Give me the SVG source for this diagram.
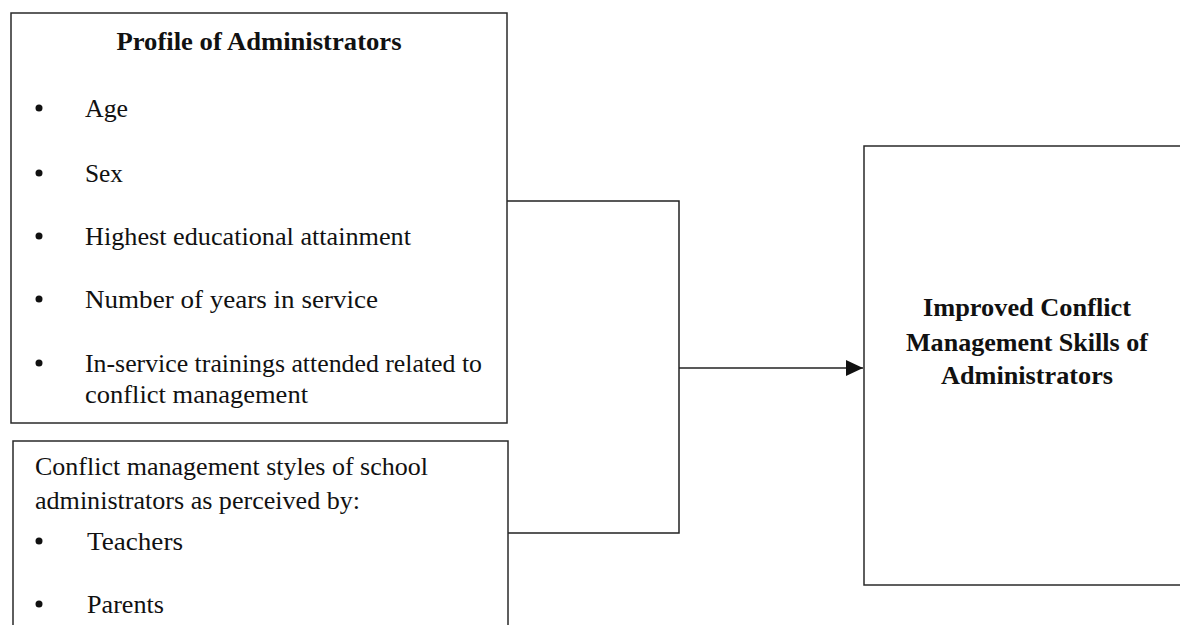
<svg xmlns="http://www.w3.org/2000/svg" width="1180" height="625" viewBox="0 0 1180 625">
  <style>
    .box { fill: #ffffff; stroke: #2a2a2a; stroke-width: 1.5; }
    .conn { fill: none; stroke: #222222; stroke-width: 1.5; }
    .t { font-family: "Liberation Serif", "Times New Roman", serif; font-size: 25px; fill: #111111; }
    .b { font-weight: bold; }
    .dot { fill: #111111; }
  </style>
  <defs>
    <marker id="arrow" markerUnits="userSpaceOnUse" markerWidth="18" markerHeight="18" viewBox="0 0 18 18" refX="17" refY="9" orient="auto">
      <path d="M0,1 L17,9 L0,17 Z" fill="#111111"/>
    </marker>
  </defs>
  <rect width="1180" height="625" fill="#ffffff"/>

  <g id="connectors">
    <path class="conn" d="M507,201 H679 V533 H508"/>
    <path class="conn" d="M679,368 H863" marker-end="url(#arrow)"/>
  </g>

  <g id="profile">
    <rect class="box" x="11" y="13" width="496" height="410"/>
    <text class="t b" x="259" y="50" text-anchor="middle" textLength="285" lengthAdjust="spacingAndGlyphs">Profile of Administrators</text>
    <circle class="dot" cx="39" cy="108" r="3.5"/>
    <text class="t" x="85" y="117" textLength="43" lengthAdjust="spacingAndGlyphs">Age</text>
    <circle class="dot" cx="39" cy="173" r="3.5"/>
    <text class="t" x="85" y="182" textLength="38" lengthAdjust="spacingAndGlyphs">Sex</text>
    <circle class="dot" cx="39" cy="236" r="3.5"/>
    <text class="t" x="85" y="245" textLength="326" lengthAdjust="spacingAndGlyphs">Highest educational attainment</text>
    <circle class="dot" cx="39" cy="299" r="3.5"/>
    <text class="t" x="85" y="308" textLength="293" lengthAdjust="spacingAndGlyphs">Number of years in service</text>
    <circle class="dot" cx="39" cy="363" r="3.5"/>
    <text class="t" x="85" y="372" textLength="397" lengthAdjust="spacingAndGlyphs">In-service trainings attended related to</text>
    <text class="t" x="85" y="403" textLength="223" lengthAdjust="spacingAndGlyphs">conflict management</text>
  </g>

  <g id="styles">
    <rect class="box" x="13" y="441" width="495" height="200"/>
    <text class="t" x="35" y="475" textLength="393" lengthAdjust="spacingAndGlyphs">Conflict management styles of school</text>
    <text class="t" x="35" y="509" textLength="325" lengthAdjust="spacingAndGlyphs">administrators as perceived by:</text>
    <circle class="dot" cx="39" cy="541" r="3.5"/>
    <text class="t" x="87" y="550" textLength="96" lengthAdjust="spacingAndGlyphs">Teachers</text>
    <circle class="dot" cx="39" cy="604" r="3.5"/>
    <text class="t" x="87" y="613" textLength="77" lengthAdjust="spacingAndGlyphs">Parents</text>
  </g>

  <g id="outcome">
    <rect class="box" x="864" y="146" width="340" height="439"/>
    <text class="t b" x="1027" y="316" text-anchor="middle" textLength="208" lengthAdjust="spacingAndGlyphs">Improved Conflict</text>
    <text class="t b" x="1027" y="351" text-anchor="middle" textLength="242" lengthAdjust="spacingAndGlyphs">Management Skills of</text>
    <text class="t b" x="1027" y="384" text-anchor="middle" textLength="172" lengthAdjust="spacingAndGlyphs">Administrators</text>
  </g>
</svg>
